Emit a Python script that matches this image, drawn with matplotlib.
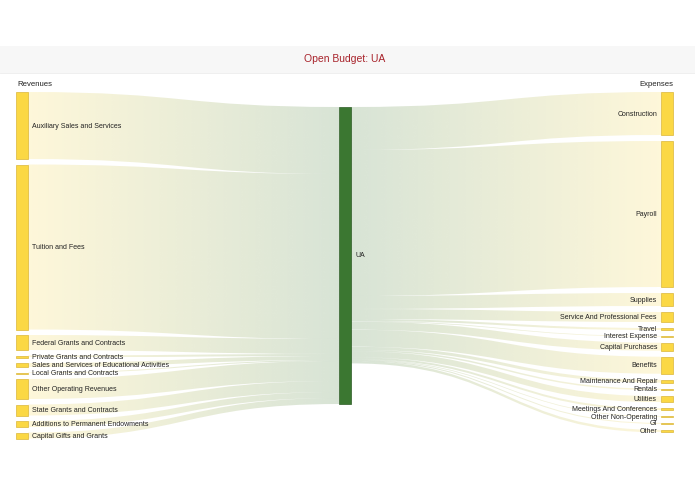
import numpy as np
import matplotlib.pyplot as plt
from matplotlib.path import Path
from matplotlib.patches import PathPatch, Rectangle
from matplotlib.colors import to_rgb

plt.rcParams['font.family'] = ['Liberation Sans', 'DejaVu Sans']

# Revenues flowing into UA, expenses flowing out (values in $M)
revenue_names = ['Auxiliary Sales and Services', 'Tuition and Fees', 'Federal Grants and Contracts',
                 'Private Grants and Contracts', 'Sales and Services of Educational Activities',
                 'Local Grants and Contracts', 'Other Operating Revenues', 'State Grants and Contracts',
                 'Additions to Permanent Endowments', 'Capital Gifts and Grants']
revenue_values = [67, 165, 15, 2, 4, 1, 20, 11, 6, 6]

expense_names = ['Construction', 'Payroll', 'Supplies', 'Service And Professional Fees', 'Travel',
                 'Interest Expense', 'Capital Purchases', 'Benefits', 'Maintenance And Repair',
                 'Rentals', 'Utilities', 'Meetings And Conferences', 'Other Non-Operating', 'GI', 'Other']
expense_values = [43, 146, 13, 10, 2, 0.7, 8, 17, 3, 1.5, 6, 2, 0.7, 1, 2.5]

center_name = 'UA'

# layout (pixel space)
W, H = 695, 494
node_w = 12
x_left, x_center, x_right = 16, 339, 661
col_top, center_top = 92, 107
pad_left, pad_right = 5.5, 6.0
ky = 1.0

yellow = '#fbd844'
yellow_edge = '#dcb739'
green = '#3b7731'
green_edge = '#2d5c25'
link_alpha = 0.2
text_color = '#222222'


def stack(values, top, pad):
    out = []
    y = top
    for v in values:
        h = v * ky
        out.append((y, y + h))
        y += h + pad
    return out


def draw_link(ax, xa, ya0, ya1, xb, yb0, yb1, ca, cb):
    xm = (xa + xb) / 2
    verts = [(xa, ya0), (xm, ya0), (xm, yb0), (xb, yb0),
             (xb, yb1), (xm, yb1), (xm, ya1), (xa, ya1), (xa, ya0)]
    codes = [Path.MOVETO, Path.CURVE4, Path.CURVE4, Path.CURVE4,
             Path.LINETO, Path.CURVE4, Path.CURVE4, Path.CURVE4, Path.CLOSEPOLY]
    patch = PathPatch(Path(verts, codes), facecolor='none', edgecolor='none')
    ax.add_patch(patch)
    n = 256
    t = np.linspace(0, 1, n)[:, None]
    rgb = (1 - t) * np.array(to_rgb(ca)) + t * np.array(to_rgb(cb))
    grad = np.concatenate([rgb, np.full((n, 1), link_alpha)], axis=1)[None, :, :]
    lo, hi = min(ya0, yb0), max(ya1, yb1)
    im = ax.imshow(grad, extent=[xa, xb, hi, lo], aspect='auto', interpolation='bilinear', zorder=1)
    im.set_clip_path(patch)


fig = plt.figure(figsize=(W / 100, H / 100), dpi=100)
ax = fig.add_axes([0, 0, 1, 1])

left_pos = stack(revenue_values, col_top, pad_left)
right_pos = stack(expense_values, col_top, pad_right)
center_h = max(sum(revenue_values), sum(expense_values)) * ky

# links into the center node
y_in = center_top
for (y0, y1), v in zip(left_pos, revenue_values):
    draw_link(ax, x_left + node_w, y0, y1, x_center, y_in, y_in + v * ky, yellow, green)
    y_in += v * ky

# links out of the center node
y_out = center_top
for (y0, y1), v in zip(right_pos, expense_values):
    draw_link(ax, x_center + node_w, y_out, y_out + v * ky, x_right, y0, y1, green, yellow)
    y_out += v * ky

# nodes
for (y0, y1), name in zip(left_pos, revenue_names):
    ax.add_patch(Rectangle((x_left, y0), node_w, max(y1 - y0, 0.8), facecolor=yellow,
                           edgecolor=yellow_edge, lw=0.5, zorder=3))
    ax.text(x_left + node_w + 4, (y0 + y1) / 2 + 0.5, name, fontsize=5, color=text_color,
            ha='left', va='center', zorder=4)

for (y0, y1), name in zip(right_pos, expense_names):
    ax.add_patch(Rectangle((x_right, y0), node_w, max(y1 - y0, 0.8), facecolor=yellow,
                           edgecolor=yellow_edge, lw=0.5, zorder=3))
    ax.text(x_right - 4, (y0 + y1) / 2 + 0.5, name, fontsize=5, color=text_color,
            ha='right', va='center', zorder=4)

ax.add_patch(Rectangle((x_center, center_top), node_w, center_h, facecolor=green,
                       edgecolor=green_edge, lw=0.5, zorder=3))
ax.text(x_center + node_w + 4, center_top + center_h / 2, center_name, fontsize=5,
        color=text_color, ha='left', va='center', zorder=4)

# header band and column titles
ax.add_patch(Rectangle((0, 46), W, 27, facecolor='#f7f7f7', edgecolor='none', zorder=0))
ax.plot([0, W], [73, 73], color='#ececec', lw=0.6, zorder=0)
ax.text(345, 59.5, 'Open Budget: UA', fontsize=7.5, color='#a8232b', ha='center', va='center')
ax.text(x_left + 1, 84.5, 'Revenues', fontsize=5.6, color=text_color, ha='left', va='center')
ax.text(x_right + node_w, 84.5, 'Expenses', fontsize=5.6, color=text_color, ha='right', va='center')

ax.set_xlim(0, W)
ax.set_ylim(H, 0)
ax.axis('off')
fig.savefig('out.png', dpi=100)
